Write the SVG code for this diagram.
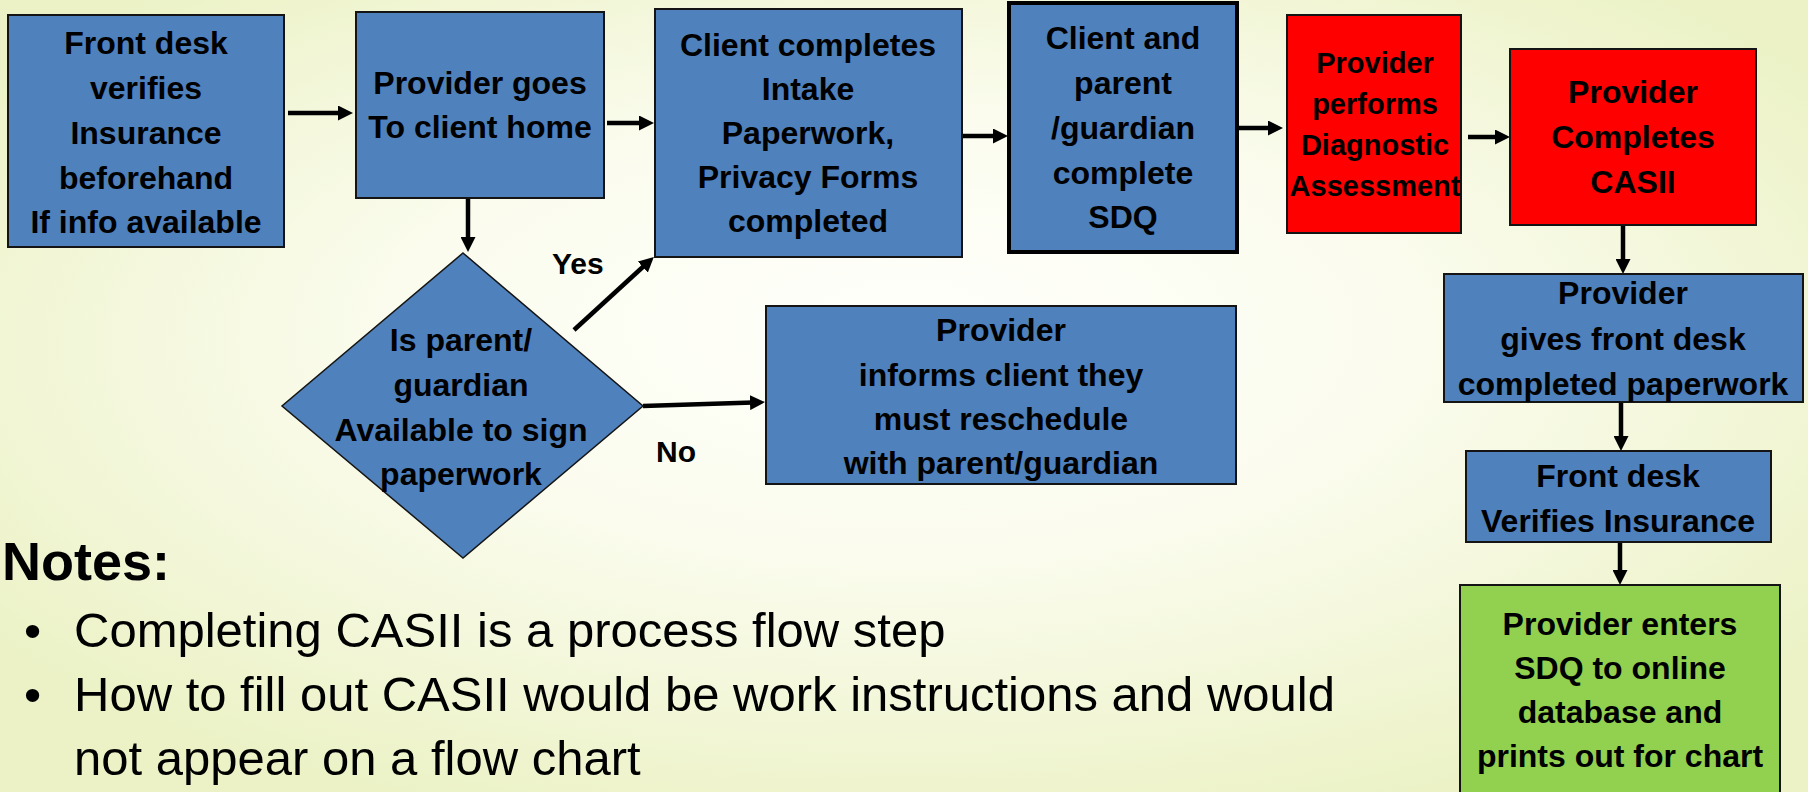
<svg xmlns="http://www.w3.org/2000/svg" width="1808" height="792" viewBox="0 0 1808 792">
  <defs>
    <radialGradient id="bg" cx="0.5" cy="0.45" r="0.62" fx="0.5" fy="0.4">
      <stop offset="0" stop-color="#FFFFFB"/>
      <stop offset="0.45" stop-color="#FBFCEE"/>
      <stop offset="1" stop-color="#ECF2C6"/>
    </radialGradient>
    <marker id="arrow" viewBox="0 0 15 15" markerWidth="15" markerHeight="15" markerUnits="userSpaceOnUse" refX="3" refY="7.5" orient="auto">
      <path d="M0,0 L15,7.5 L0,15 z" fill="#000"/>
    </marker>
    <style>
      .box { stroke: #141414; stroke-width: 2; }
      .blue { fill: #4F81BD; }
      .red { fill: #FF0000; }
      .green { fill: #92D050; }
      .heavy { stroke: #000; stroke-width: 4; }
      .lbl { font-family: "Liberation Sans", Arial, sans-serif; font-weight: bold; font-size: 32px; fill: #000; text-anchor: middle; }
      .small { font-size: 29px; }
      .tag { font-family: "Liberation Sans", Arial, sans-serif; font-weight: bold; font-size: 30px; fill: #000; }
      .conn { stroke: #000; stroke-width: 4.5; fill: none; marker-end: url(#arrow); }
      .head { font-family: "Liberation Sans", Arial, sans-serif; font-weight: bold; font-size: 54px; fill: #000; }
      .note { font-family: "Liberation Sans", Arial, sans-serif; font-size: 49px; fill: #000; }
    </style>
  </defs>

  <rect width="1808" height="792" fill="url(#bg)"/>

  <!-- connectors -->
  <g id="connectors">
    <path class="conn" d="M288,113 L341,113"/>
    <path class="conn" d="M607,123 L642,123"/>
    <path class="conn" d="M963,136 L996,136"/>
    <path class="conn" d="M1238,128 L1271,128"/>
    <path class="conn" d="M1468,137 L1498,137"/>
    <path class="conn" d="M1623,226 L1623,262"/>
    <path class="conn" d="M1621,403 L1621,439"/>
    <path class="conn" d="M1620,543 L1620,573"/>
    <path class="conn" d="M468,198 L468,240"/>
    <path class="conn" d="M574,330 L645,265"/>
    <path class="conn" d="M643,406 L753,402.5"/>
    <text class="tag" x="552" y="274">Yes</text>
    <text class="tag" x="656" y="462">No</text>
  </g>

  <g id="verify-insurance-before">
    <rect class="box blue" x="8" y="15" width="276" height="232"/>
    <text class="lbl" x="146" y="54">Front desk<tspan x="146" y="99">verifies</tspan><tspan x="146" y="144">Insurance</tspan><tspan x="146" y="189">beforehand</tspan><tspan x="146" y="233">If info available</tspan></text>
  </g>

  <g id="provider-visit">
    <rect class="box blue" x="356" y="12" width="248" height="186"/>
    <text class="lbl" x="480" y="94">Provider goes<tspan x="480" y="138">To client home</tspan></text>
  </g>

  <g id="intake-paperwork">
    <rect class="box blue" x="655" y="9" width="307" height="248"/>
    <text class="lbl" x="808" y="56">Client completes<tspan x="808" y="100">Intake</tspan><tspan x="808" y="144">Paperwork,</tspan><tspan x="808" y="188">Privacy Forms</tspan><tspan x="808" y="232">completed</tspan></text>
  </g>

  <g id="complete-sdq">
    <rect class="blue heavy" x="1009" y="3" width="228" height="249"/>
    <text class="lbl" x="1123" y="49">Client and<tspan x="1123" y="94">parent</tspan><tspan x="1123" y="139">/guardian</tspan><tspan x="1123" y="184">complete</tspan><tspan x="1123" y="228">SDQ</tspan></text>
  </g>

  <g id="diagnostic-assessment">
    <rect class="box red" x="1287" y="15" width="174" height="218"/>
    <text class="lbl small" x="1375" y="73">Provider<tspan x="1375" y="114">performs</tspan><tspan x="1375" y="155">Diagnostic</tspan><tspan x="1375" y="196">Assessment</tspan></text>
  </g>

  <g id="complete-casii">
    <rect class="box red" x="1510" y="49" width="246" height="176"/>
    <text class="lbl" x="1633" y="103">Provider<tspan x="1633" y="148">Completes</tspan><tspan x="1633" y="193">CASII</tspan></text>
  </g>

  <g id="hand-paperwork">
    <rect class="box blue" x="1444" y="274" width="359" height="128"/>
    <text class="lbl" x="1623" y="304">Provider<tspan x="1623" y="350">gives front desk</tspan><tspan x="1623" y="395">completed paperwork</tspan></text>
  </g>

  <g id="verify-insurance">
    <rect class="box blue" x="1466" y="451" width="305" height="91"/>
    <text class="lbl" x="1618" y="487">Front desk<tspan x="1618" y="532">Verifies Insurance</tspan></text>
  </g>

  <g id="enter-sdq">
    <rect class="box green" x="1460" y="585" width="320" height="215"/>
    <text class="lbl" x="1620" y="635">Provider enters<tspan x="1620" y="679">SDQ to online</tspan><tspan x="1620" y="723">database and</tspan><tspan x="1620" y="767">prints out for chart</tspan></text>
  </g>

  <g id="guardian-available">
    <polygon class="blue" points="463,253 643,406 463,558 282,406" stroke="#141414" stroke-width="1.5"/>
    <text class="lbl" x="461" y="351">Is parent/<tspan x="461" y="396">guardian</tspan><tspan x="461" y="441">Available to sign</tspan><tspan x="461" y="485">paperwork</tspan></text>
  </g>

  <g id="reschedule">
    <rect class="box blue" x="766" y="306" width="470" height="178"/>
    <text class="lbl" x="1001" y="341">Provider<tspan x="1001" y="386">informs client they</tspan><tspan x="1001" y="430">must reschedule</tspan><tspan x="1001" y="474">with parent/guardian</tspan></text>
  </g>

  <g id="notes">
    <text class="head" x="2" y="580">Notes:</text>
    <text class="note" x="24" y="647">•</text>
    <text class="note" x="74" y="647">Completing CASII is a process flow step</text>
    <text class="note" x="24" y="711">•</text>
    <text class="note" x="74" y="711">How to fill out CASII would be work instructions and would</text>
    <text class="note" x="74" y="775">not appear on a flow chart</text>
  </g>
</svg>
